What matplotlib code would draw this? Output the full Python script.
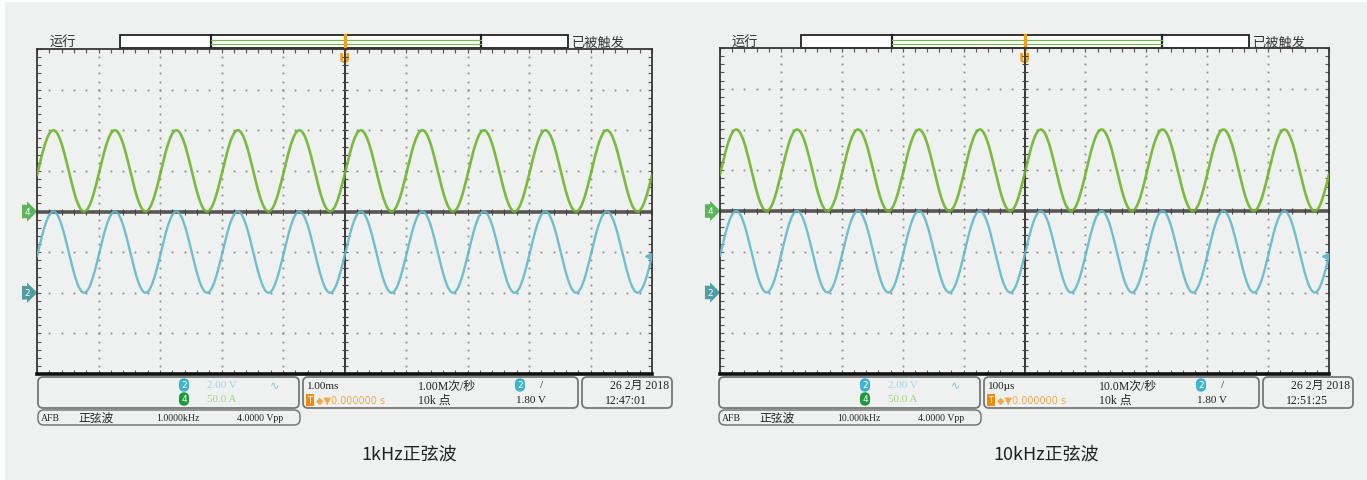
import numpy as np
import matplotlib
matplotlib.use('Agg')
import matplotlib.pyplot as plt
from matplotlib.patches import FancyBboxPatch, Rectangle

plt.rcParams['font.family'] = ['Noto Sans CJK SC', 'DejaVu Sans']

# two captures, same scope settings except the AFB frequency / timebase
captions = ['1kHz正弦波', '10kHz正弦波']
freq_hz = [1000.0, 10000.0]
sec_per_div = [1e-3, 100e-6]
timebase_labels = ['1.00ms', '100µs']
sample_rate_labels = ['1.00M次/秒', '10.0M次/秒']
afb_freq_labels = ['1.0000kHz', '10.000kHz']
clock_labels = ['12:47:01', '12:51:25']
date_label = '26 2月 2018'

# channel 2 : voltage, channel 4 : current
ch2_scale = 2.0       # V/div
ch2_vpp = 4.0         # V
ch2_offset = 2.0      # V (dc level above ground marker)
ch2_ground_div = -2.0
ch4_scale = 50.0      # A/div
ch4_amp = 50.0        # A
ch4_offset = 50.0     # A
ch4_ground_div = 0.0
trig_level = 1.80     # V on ch2, rising edge at screen centre

GREEN = '#6cb52c'
CYAN = '#62b8cc'
BG = '#eff1f1'
GRID = '#8a8a8a'

fig = plt.figure(figsize=(13.67, 4.81), dpi=100, facecolor='white')
W, H = 1367, 481

# overlay in pixel coordinates for the scope chrome
ov = fig.add_axes([0, 0, 1, 1], zorder=0)
ov.set_xlim(0, W)
ov.set_ylim(H, 0)
ov.axis('off')
ov.add_patch(Rectangle((5, 3), W, H, facecolor=BG, edgecolor='none'))

panels = [(37, 652, 50, 375, 0), (720, 1329, 49, 375, 681)]

# phase so that ch2 passes the trigger level (rising) at t = 0
phase0 = np.arcsin((trig_level - ch2_offset) / (ch2_vpp / 2))

for i, (x0, x1, y0, y1, dx) in enumerate(panels):
    ax = fig.add_axes([x0 / W, 1 - y1 / H, (x1 - x0) / W, (y1 - y0) / H], zorder=2)
    ax.set_facecolor('none')
    ax.set_xlim(0, 10)
    ax.set_ylim(-4, 4)

    # dotted graticule
    fine_x = np.arange(0, 10.01, 0.2)
    fine_y = np.arange(-4, 4.01, 0.2)
    for gx in range(1, 10):
        if gx != 5:
            ax.plot(np.full_like(fine_y, gx), fine_y, ls='none', marker='s', ms=1.3,
                    color=GRID, mew=0)
    for gy in range(-3, 4):
        if gy != 0:
            ax.plot(fine_x, np.full_like(fine_x, gy), ls='none', marker='s', ms=1.3,
                    color=GRID, mew=0)
    ax.axhline(0, color='#5a5555', lw=2.6, zorder=1)
    ax.axvline(5, color='#3a3535', lw=1.4, zorder=1)
    ax.plot(fine_x, np.zeros_like(fine_x), ls='none', marker='|', ms=5, color='#444', mew=0.8)
    ax.plot(np.full_like(fine_y, 5), fine_y, ls='none', marker='_', ms=5, color='#444', mew=0.8)

    ax.set_xticks(fine_x)
    ax.set_yticks(fine_y)
    ax.tick_params(direction='in', length=3, width=0.8, color='#555',
                   top=True, right=True, labelbottom=False, labelleft=False)
    for s in ax.spines.values():
        s.set_color('#3a3535')
        s.set_linewidth(1.3)
    ax.spines['bottom'].set_linewidth(2.6)
    ax.spines['bottom'].set_color('#111')

    # waveforms
    t = np.linspace(-5, 5, 3000) * sec_per_div[i]
    arg = 2 * np.pi * freq_hz[i] * t + phase0
    ch4 = ch4_offset + ch4_amp * np.sin(arg)
    ch2 = ch2_offset + ch2_vpp / 2 * np.sin(arg)
    tdiv = t / sec_per_div[i] + 5
    ax.plot(tdiv, ch4_ground_div + ch4 / ch4_scale, color=GREEN, lw=1.9, alpha=0.9, zorder=3)
    ax.plot(tdiv, ch2_ground_div + ch2 / ch2_scale, color=CYAN, lw=1.7, alpha=0.9, zorder=3)

    # trigger level marker on right edge
    ax.plot(9.93, ch2_ground_div + trig_level / ch2_scale, marker='<', ms=5,
            color=CYAN, clip_on=False, zorder=4)

    # ground markers at left
    yc = (y0 + y1) / 2
    dpx = (y1 - y0) / 8
    for lab, gdiv, col in [('4', ch4_ground_div, '#5ab55a'), ('2', ch2_ground_div, '#4f9ea6')]:
        ov.text(x0 - 10, yc - gdiv * dpx, lab, color='white', fontsize=6.5, ha='center',
                va='center', family=['DejaVu Sans'],
                bbox=dict(boxstyle='rarrow,pad=0.25', fc=col, ec='none'))

    # header
    ov.text(50 + dx, 43, '运行', fontsize=9.5, color='#333', va='center')
    ov.add_patch(Rectangle((120 + dx, 36), 448, 13, fc='white', ec='#222', lw=1.3, zorder=3))
    ov.plot([211 + dx, 211 + dx], [36, 49], color='#222', lw=1.6, zorder=4)
    ov.plot([481 + dx, 481 + dx], [36, 49], color='#222', lw=1.6, zorder=4)
    ov.plot([211 + dx, 481 + dx], [41, 41], color='#78b850', lw=0.9, zorder=4)
    ov.plot([211 + dx, 481 + dx], [44.5, 44.5], color='#78b850', lw=0.9, zorder=4)
    ov.text(572 + dx, 43, '已被触发', fontsize=9.5, color='#333', va='center')
    cx = (x0 + x1) / 2
    ov.plot([cx, cx], [36, 50], color='#f0a020', lw=2.4, zorder=5)
    ov.text(cx, 59, 'U', fontsize=10, fontweight='bold', color='#f0a020', ha='center',
            va='center', family=['DejaVu Sans'], zorder=5)

    # info boxes
    serif = ['Liberation Serif', 'Noto Sans CJK SC']
    for bx, bw in [(38, 261), (303, 275), (582, 90)]:
        ov.add_patch(FancyBboxPatch((bx + dx, 378), bw, 31,
                                    boxstyle='round,pad=0,rounding_size=5',
                                    fc='none', ec='#777', lw=1.3))
    ov.add_patch(FancyBboxPatch((38 + dx, 411), 262, 15, boxstyle='round,pad=0,rounding_size=6',
                                fc='none', ec='#777', lw=1.1))

    def badge(x, y, lab, col):
        ov.text(x + dx, y, lab, color='white', fontsize=6.5, ha='center', va='center',
                family=['DejaVu Sans'],
                bbox=dict(boxstyle='round,pad=0.25,rounding_size=0.6', fc=col, ec='none'))

    badge(184, 386, '2', '#3fb4cc')
    badge(184, 400, '4', '#1e9a3c')
    ov.text(207 + dx, 386, '2.00 V', fontsize=8, color='#9fd6e2', va='center', family=serif)
    ov.text(207 + dx, 400, '50.0 A', fontsize=8, color='#a6d27c', va='center', family=serif)
    ov.text(270 + dx, 385, '∿', fontsize=8, color='#7ec4d4', va='center', family=['DejaVu Sans'])

    ov.text(307 + dx, 387, timebase_labels[i], fontsize=8, color='#222', va='center', family=serif)
    ov.text(310 + dx, 401, 'T', fontsize=6, color='white', ha='center', va='center',
            family=['DejaVu Sans'], bbox=dict(boxstyle='square,pad=0.15', fc='#f08a10', ec='none'))
    ov.text(316 + dx, 401, '◆▼0.000000 s', fontsize=7, color='#f4a848', va='center',
            family=['DejaVu Sans'])
    ov.text(418 + dx, 387, sample_rate_labels[i], fontsize=8.5, color='#222', va='center', family=serif)
    ov.text(418 + dx, 401, '10k 点', fontsize=8.5, color='#222', va='center', family=serif)
    badge(520, 386, '2', '#3fb4cc')
    ov.text(540 + dx, 386, '/', fontsize=8, color='#222', va='center', family=serif)
    ov.text(516 + dx, 401, '%.2f V' % trig_level, fontsize=8, color='#222', va='center', family=serif)

    ov.text(669 + dx, 386, date_label, fontsize=8.5, color='#222', va='center', ha='right', family=serif)
    ov.text(605 + dx, 401, clock_labels[i], fontsize=8.5, color='#222', va='center', family=serif)

    ov.text(41 + dx, 418.5, 'AFB', fontsize=7, color='#222', va='center', family=serif)
    ov.text(78 + dx, 418.5, '正弦波', fontsize=8.5, color='#222', va='center')
    ov.text(156 + dx, 418.5, afb_freq_labels[i], fontsize=7, color='#222', va='center', family=serif)
    ov.text(237 + dx, 418.5, '4.0000 Vpp', fontsize=7, color='#222', va='center', family=serif)

    # caption
    ov.text(cx + 65 if i == 0 else cx + 22, 455, captions[i], fontsize=13, color='#222',
            ha='center', va='center')

fig.savefig('out.png', dpi=100, facecolor=fig.get_facecolor())
